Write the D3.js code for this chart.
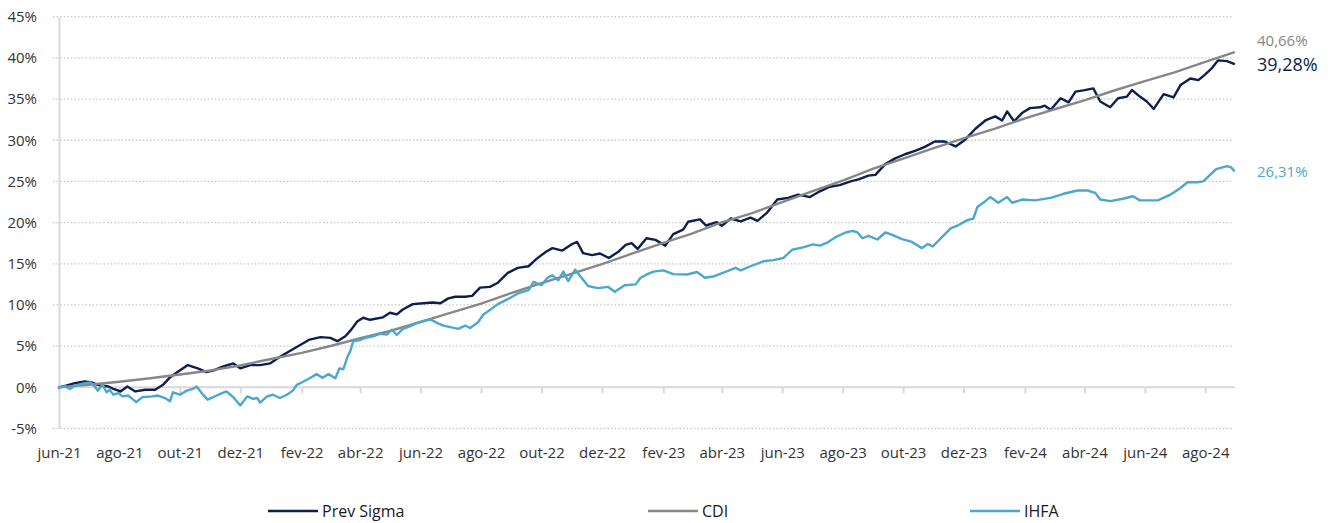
<!DOCTYPE html>
<html><head><meta charset="utf-8">
<script src="https://cdn.jsdelivr.net/npm/d3@7"></script>
<style>
html,body{margin:0;padding:0;background:#fff;}
svg{display:block;}
text{font-family:"Open Sans","Noto Sans",sans-serif;}
</style></head>
<body><svg id="chart" width="1336" height="523"></svg>
<script>
// ---------------- DATA ----------------
const seriesNames = ["Prev Sigma", "CDI", "IHFA"];
const endLabels = ["39,28%", "40,66%", "26,31%"];
const yTicks = [-5, 0, 5, 10, 15, 20, 25, 30, 35, 40, 45];
const xTickLabels = ["jun-21","ago-21","out-21","dez-21","fev-22","abr-22","jun-22","ago-22","out-22","dez-22",
  "fev-23","abr-23","jun-23","ago-23","out-23","dez-23","fev-24","abr-24","jun-24","ago-24"];

const prevSigma = [
["2021-06-01",0.0],["2021-06-08",0.2],["2021-06-17",0.5],["2021-06-27",0.7],["2021-07-04",0.6],["2021-07-10",0.3],
["2021-07-21",0.1],["2021-07-26",-0.2],["2021-08-02",-0.5],["2021-08-09",0.1],["2021-08-17",-0.5],["2021-08-27",-0.3],
["2021-09-06",-0.3],["2021-09-14",0.3],["2021-09-21",1.2],["2021-09-29",1.9],["2021-10-09",2.7],["2021-10-19",2.3],
["2021-10-28",1.85],["2021-11-05",2.1],["2021-11-13",2.5],["2021-11-24",2.9],["2021-12-01",2.3],["2021-12-11",2.7],
["2021-12-21",2.7],["2021-12-31",2.9],["2022-01-10",3.7],["2022-01-20",4.4],["2022-01-30",5.1],["2022-02-09",5.8],
["2022-02-20",6.1],["2022-03-02",6.0],["2022-03-09",5.6],["2022-03-17",6.2],["2022-03-23",7.0],["2022-03-29",8.0],
["2022-04-04",8.45],["2022-04-11",8.2],["2022-04-24",8.5],["2022-05-01",9.05],["2022-05-08",8.85],["2022-05-14",9.45],
["2022-05-24",10.1],["2022-06-04",10.2],["2022-06-13",10.3],["2022-06-21",10.2],["2022-06-29",10.8],["2022-07-06",11.0],
["2022-07-16",11.0],["2022-07-23",11.1],["2022-07-31",12.1],["2022-08-10",12.2],["2022-08-18",12.7],["2022-08-28",13.9],
["2022-09-07",14.5],["2022-09-18",14.7],["2022-09-26",15.6],["2022-10-06",16.5],["2022-10-12",16.9],["2022-10-22",16.6],
["2022-11-01",17.4],["2022-11-06",17.65],["2022-11-12",16.3],["2022-11-21",16.05],["2022-11-29",16.25],["2022-12-08",15.7],
["2022-12-18",16.5],["2022-12-25",17.3],["2022-12-31",17.5],["2023-01-06",16.8],["2023-01-15",18.1],["2023-01-24",17.9],
["2023-02-03",17.2],["2023-02-11",18.6],["2023-02-21",19.15],["2023-02-26",20.1],["2023-03-10",20.4],["2023-03-16",19.65],
["2023-03-27",20.05],["2023-04-01",19.6],["2023-04-10",20.5],["2023-04-20",20.15],["2023-04-30",20.6],["2023-05-07",20.2],
["2023-05-17",21.25],["2023-05-27",22.8],["2023-06-07",23.0],["2023-06-17",23.4],["2023-06-29",23.1],["2023-07-09",23.8],
["2023-07-19",24.35],["2023-07-29",24.55],["2023-08-09",25.0],["2023-08-17",25.25],["2023-08-27",25.7],["2023-09-03",25.8],
["2023-09-13",27.1],["2023-09-23",27.8],["2023-10-03",28.3],["2023-10-13",28.7],["2023-10-23",29.2],["2023-11-02",29.85],
["2023-11-12",29.85],["2023-11-23",29.25],["2023-12-03",30.1],["2023-12-13",31.4],["2023-12-23",32.4],["2024-01-02",32.9],
["2024-01-09",32.4],["2024-01-14",33.5],["2024-01-21",32.3],["2024-01-29",33.3],["2024-02-06",33.9],["2024-02-16",34.0],
["2024-02-21",34.2],["2024-02-27",33.7],["2024-03-08",35.1],["2024-03-16",34.6],["2024-03-23",35.9],["2024-03-31",36.05],
["2024-04-10",36.3],["2024-04-17",34.7],["2024-04-27",34.0],["2024-05-05",35.1],["2024-05-14",35.3],["2024-05-19",36.1],
["2024-05-27",35.3],["2024-06-03",34.7],["2024-06-10",33.8],["2024-06-20",35.6],["2024-06-30",35.2],["2024-07-07",36.7],
["2024-07-17",37.5],["2024-07-25",37.3],["2024-08-01",38.0],["2024-08-08",38.8],["2024-08-14",39.7],["2024-08-23",39.6],
["2024-08-30",39.28]
];

const cdi = [
["2021-06-01",0.0],["2021-07-01",0.31],["2021-08-01",0.67],["2021-09-01",1.10],["2021-10-01",1.55],["2021-11-01",2.05],
["2021-12-01",2.65],["2022-01-01",3.44],["2022-02-01",4.19],["2022-03-01",4.99],["2022-04-01",5.96],["2022-05-01",6.84],
["2022-06-01",7.94],["2022-07-01",9.04],["2022-08-01",10.17],["2022-09-01",11.46],["2022-10-01",12.65],["2022-11-01",13.80],
["2022-12-01",14.96],["2023-01-01",16.25],["2023-02-01",17.55],["2023-03-01",18.63],["2023-04-01",20.02],["2023-05-01",21.12],
["2023-06-01",22.48],["2023-07-01",23.79],["2023-08-01",25.11],["2023-09-01",26.54],["2023-10-01",27.77],["2023-11-01",29.04],
["2023-12-01",30.23],["2024-01-01",31.39],["2024-02-01",32.66],["2024-03-01",33.73],["2024-04-01",34.84],["2024-05-01",36.04],
["2024-06-01",37.17],["2024-07-01",38.25],["2024-08-01",39.51],["2024-08-30",40.66]
];

const ihfa = [
["2021-06-01",0.0],["2021-06-07",0.1],["2021-06-12",-0.2],["2021-06-17",0.2],["2021-06-27",0.5],["2021-07-03",0.6],
["2021-07-07",0.1],["2021-07-10",-0.4],["2021-07-15",0.3],["2021-07-19",-0.6],["2021-07-22",-0.3],["2021-07-26",-0.9],
["2021-07-31",-0.7],["2021-08-04",-1.1],["2021-08-10",-1.0],["2021-08-18",-1.8],["2021-08-24",-1.2],["2021-09-03",-1.1],
["2021-09-09",-1.0],["2021-09-16",-1.3],["2021-09-21",-1.7],["2021-09-24",-0.6],["2021-10-01",-0.9],["2021-10-08",-0.4],
["2021-10-14",-0.2],["2021-10-18",0.1],["2021-10-23",-0.7],["2021-10-29",-1.5],["2021-11-09",-0.9],["2021-11-17",-0.5],
["2021-11-24",-1.2],["2021-12-01",-2.2],["2021-12-08",-1.1],["2021-12-14",-1.4],["2021-12-18",-1.3],["2021-12-21",-1.85],
["2021-12-28",-1.1],["2022-01-03",-0.9],["2022-01-10",-1.3],["2022-01-17",-0.9],["2022-01-23",-0.4],["2022-01-27",0.3],
["2022-02-02",0.65],["2022-02-09",1.1],["2022-02-16",1.6],["2022-02-22",1.15],["2022-02-28",1.6],["2022-03-07",1.1],
["2022-03-11",2.3],["2022-03-15",2.2],["2022-03-19",3.65],["2022-03-22",4.4],["2022-03-25",5.6],["2022-04-01",5.75],
["2022-04-08",6.05],["2022-04-14",6.2],["2022-04-21",6.5],["2022-04-28",6.4],["2022-05-03",7.0],["2022-05-08",6.35],
["2022-05-14",7.1],["2022-05-21",7.4],["2022-05-28",7.8],["2022-06-04",8.05],["2022-06-11",8.25],["2022-06-18",7.8],
["2022-06-24",7.5],["2022-07-01",7.3],["2022-07-09",7.1],["2022-07-16",7.5],["2022-07-21",7.2],["2022-07-29",7.9],
["2022-08-03",8.8],["2022-08-10",9.4],["2022-08-18",10.1],["2022-08-28",10.7],["2022-09-07",11.4],["2022-09-18",11.8],
["2022-09-23",12.8],["2022-10-01",12.4],["2022-10-07",13.3],["2022-10-12",13.6],["2022-10-18",13.0],["2022-10-23",14.05],
["2022-10-28",12.9],["2022-11-04",14.3],["2022-11-11",13.2],["2022-11-17",12.3],["2022-11-27",12.05],["2022-12-07",12.2],
["2022-12-14",11.6],["2022-12-24",12.4],["2023-01-04",12.5],["2023-01-09",13.3],["2023-01-16",13.75],["2023-01-22",14.05],
["2023-02-01",14.2],["2023-02-11",13.75],["2023-02-25",13.7],["2023-03-07",14.0],["2023-03-15",13.3],["2023-03-23",13.45],
["2023-04-02",13.9],["2023-04-15",14.5],["2023-04-20",14.2],["2023-04-30",14.7],["2023-05-13",15.3],["2023-05-23",15.45],
["2023-06-02",15.7],["2023-06-11",16.7],["2023-06-22",17.0],["2023-07-02",17.35],["2023-07-09",17.2],["2023-07-17",17.6],
["2023-07-26",18.3],["2023-08-04",18.8],["2023-08-11",19.0],["2023-08-16",18.8],["2023-08-21",18.1],["2023-08-27",18.4],
["2023-09-05",17.95],["2023-09-13",18.8],["2023-09-20",18.5],["2023-09-30",18.0],["2023-10-10",17.65],["2023-10-20",16.9],
["2023-10-26",17.4],["2023-10-31",17.1],["2023-11-09",18.2],["2023-11-18",19.3],["2023-11-26",19.7],["2023-12-05",20.3],
["2023-12-11",20.5],["2023-12-15",21.9],["2023-12-23",22.6],["2023-12-28",23.1],["2024-01-05",22.4],["2024-01-14",23.1],
["2024-01-19",22.4],["2024-01-29",22.8],["2024-02-11",22.7],["2024-02-27",23.0],["2024-03-11",23.5],["2024-03-25",23.9],
["2024-04-04",23.9],["2024-04-12",23.6],["2024-04-17",22.8],["2024-04-27",22.6],["2024-05-10",22.9],["2024-05-20",23.2],
["2024-05-27",22.7],["2024-06-14",22.7],["2024-06-27",23.4],["2024-07-07",24.2],["2024-07-14",24.9],["2024-07-24",24.9],
["2024-07-30",25.0],["2024-08-05",25.7],["2024-08-12",26.5],["2024-08-23",26.85],["2024-08-27",26.7],["2024-08-30",26.31]
];

// ---------------- CHART ----------------
const colors = {"Prev Sigma":"#0c1f4f","CDI":"#878787","IHFA":"#4ba7cf"};
const parse = d3.timeParse("%Y-%m-%d");
const monthIdx = {jan:0,fev:1,mar:2,abr:3,mai:4,jun:5,jul:6,ago:7,set:8,out:9,nov:10,dez:11};
const tickDates = xTickLabels.map(l => { const [m,y] = l.split("-"); return new Date(2000 + +y, monthIdx[m], 1); });

const svg = d3.select("#chart");
const x = d3.scaleTime().domain([parse("2021-06-01"), parse("2024-08-30")]).range([59, 1234]);
const y = d3.scaleLinear().domain([-5, 45]).range([428.5, 16.7]);

// gridlines
svg.append("g").selectAll("line").data(yTicks.filter(v => v !== 0)).join("line")
  .attr("x1", 53).attr("x2", 1233).attr("y1", d => y(d)).attr("y2", d => y(d))
  .attr("stroke", "#c4c4c4").attr("stroke-width", 1.3).attr("stroke-dasharray", "1.4,2.2");

// y axis
const yAxis = svg.append("g").attr("transform", "translate(59,0)")
  .call(d3.axisLeft(y).tickValues(yTicks).tickSize(0).tickPadding(22).tickFormat(d => d + "%"));
yAxis.select(".domain").attr("stroke", "#d9d9d9").attr("stroke-width", 2);
yAxis.selectAll("text").attr("font-size", 15).attr("fill", "#333").attr("font-family", "Open Sans");

// x axis at zero
const xAxis = svg.append("g").attr("transform", `translate(0,${y(0)})`)
  .call(d3.axisBottom(x).tickValues(tickDates).tickSize(6).tickPadding(54)
    .tickFormat((d, i) => xTickLabels[i]));
xAxis.select(".domain").attr("stroke", "#d9d9d9").attr("stroke-width", 2).attr("d", `M59,0H1235`);
xAxis.selectAll(".tick line").attr("stroke", "#d9d9d9").attr("stroke-width", 2);
xAxis.selectAll("text").attr("font-size", 15).attr("fill", "#333").attr("font-family", "Open Sans");

// lines
const line = d3.line().x(d => x(parse(d[0]))).y(d => y(d[1]));
const data = {"Prev Sigma": prevSigma, "CDI": cdi, "IHFA": ihfa};
["Prev Sigma", "CDI", "IHFA"].forEach(name => {
  svg.append("path").datum(data[name]).attr("d", line)
    .attr("fill", "none").attr("stroke", colors[name]).attr("stroke-width", 2.4)
    .attr("stroke-linejoin", "round").attr("stroke-linecap", "round");
});

// end labels
const endInfo = [
  {name: "CDI", text: endLabels[1], yy: 41, size: 15},
  {name: "Prev Sigma", text: endLabels[0], yy: 65, size: 18},
  {name: "IHFA", text: endLabels[2], yy: 172, size: 15}
];
svg.append("g").selectAll("text").data(endInfo).join("text")
  .attr("x", 1257).attr("y", d => d.yy).attr("dy", "0.35em")
  .attr("font-size", d => d.size).attr("fill", d => colors[d.name]).text(d => d.text);

// legend
const legX = [268, 648, 970];
const lg = svg.append("g").selectAll("g").data(seriesNames).join("g")
  .attr("transform", (d, i) => `translate(${legX[i]},511)`);
lg.append("line").attr("x1", 0).attr("x2", 50).attr("stroke", d => colors[d]).attr("stroke-width", 2.6);
lg.append("text").attr("x", 54).attr("dy", "0.35em").attr("font-size", 16)
  .attr("font-family", "'Liberation Sans Narrow','Roboto',sans-serif")
  .attr("fill", "#1a1a1a").text(d => d);
</script></body></html>
